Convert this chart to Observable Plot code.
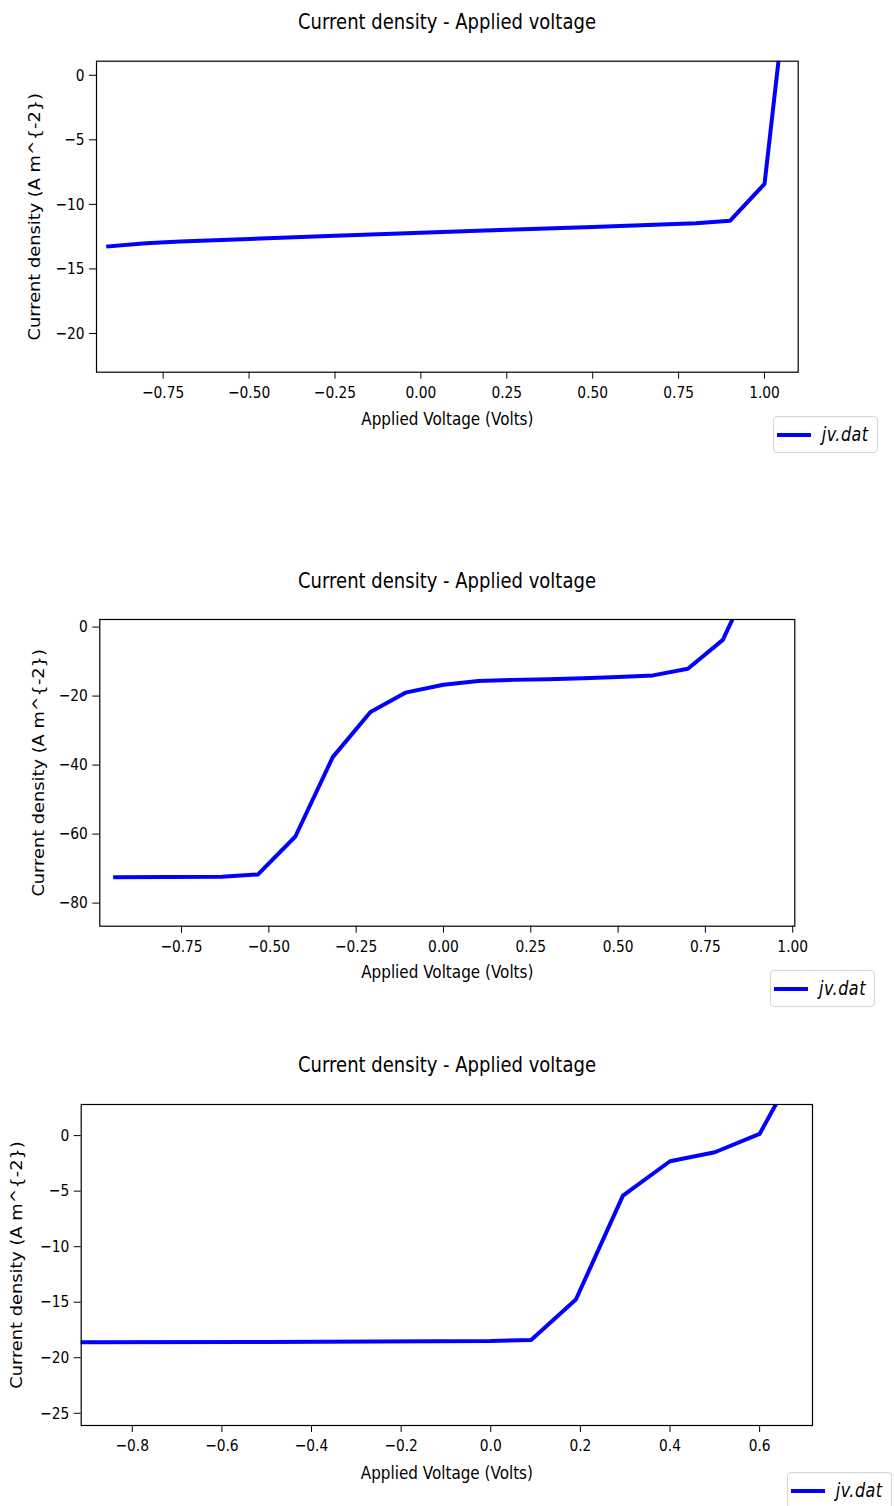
<!DOCTYPE html>
<html>
<head>
<meta charset="utf-8">
<script src="https://cdn.jsdelivr.net/npm/d3@7"></script>
<script src="https://cdn.jsdelivr.net/npm/@observablehq/plot@0.6"></script>
<style>
  html, body { margin: 0; padding: 0; background: #fff; }
  #root { position: relative; width: 894px; height: 1506px; overflow: hidden; background: #fff; font-family: "DejaVu Sans", sans-serif; }
  .title { position: absolute; left: 0; width: 894px; text-align: center; font-size: 18px; line-height: 18px; color: #000; white-space: nowrap;
           transform-origin: 50% 8.6px; transform: scaleY(1.2); }
  .legend { position: absolute; box-sizing: border-box; border: 1px solid #d4d4d4; border-radius: 4px; background: #fff; }
  .legend .sw { position: absolute; height: 4px; background: #0000ff; }
  .legend .lt { position: absolute; font-style: italic; font-size: 16px; line-height: 16px; letter-spacing: 0.5px; color: #000; white-space: nowrap;
                transform-origin: 50% 50%; transform: scaleY(1.17); }
</style>
</head>
<body>
<div id="root"></div>
<script>
// ---- Data ----
const titleText = "Current density - Applied voltage";
const xLabelText = "Applied Voltage (Volts)";
const yLabelText = "Current density (A m^{-2})";
const legendText = "jv.dat";

// Chart 1
const v1 = [-0.91, -0.8, -0.7, -0.6, -0.5, -0.25, 0.0, 0.25, 0.5, 0.8, 0.9, 1.0, 1.1];
const j1 = [-13.26, -13.02, -12.88, -12.77, -12.68, -12.43, -12.2, -11.97, -11.75, -11.47, -11.26, -8.42, 15];
const xTicks1 = [-0.75, -0.5, -0.25, 0, 0.25, 0.5, 0.75, 1.0];
const yTicks1 = [0, -5, -10, -15, -20];

// Chart 2
const v2 = [-0.94, -0.634, -0.531, -0.424, -0.317, -0.209, -0.109, 0.0, 0.1, 0.2, 0.3, 0.4, 0.5, 0.6, 0.7, 0.8, 0.9];
const j2 = [-72.5, -72.4, -71.7, -60.7, -37.7, -24.6, -19.0, -16.7, -15.65, -15.3, -15.1, -14.8, -14.5, -14.0, -12.1, -3.7, 18];
const xTicks2 = [-0.75, -0.5, -0.25, 0, 0.25, 0.5, 0.75, 1.0];
const yTicks2 = [0, -20, -40, -60, -80];

// Chart 3
const v3 = [-1.0, -0.5, 0.0, 0.09, 0.19, 0.295, 0.4, 0.5, 0.6, 0.7];
const j3 = [-18.62, -18.58, -18.5, -18.4, -14.76, -5.4, -2.31, -1.5, 0.15, 7.5];
const xTicks3 = [-0.8, -0.6, -0.4, -0.2, 0.0, 0.2, 0.4, 0.6];
const yTicks3 = [0, -5, -10, -15, -20, -25];

// ---- Layout ----
const root = document.getElementById("root");
const W = 894;
const STRETCH = 1.17; // reference text is vertically stretched

function stretchText(svg, s) {
  const sr = svg.getBoundingClientRect();
  svg.querySelectorAll("text").forEach(t => {
    const r = t.getBoundingClientRect();
    if (!r.height) return;
    const cy = (r.top + r.bottom) / 2 - sr.top;
    const pm = t.parentNode.getCTM();
    const cyP = cy - (pm ? pm.f : 0);
    const old = t.getAttribute("transform") || "";
    t.setAttribute("transform", `translate(0,${cyP * (1 - s)}) scale(1,${s}) ${old}`);
  });
}

function makeChart(cfg) {
  const rows = cfg.v.map((v, i) => ({v, j: cfg.j[i]}));
  const svg = Plot.plot({
    width: W,
    height: cfg.height,
    marginTop: cfg.mt, marginBottom: cfg.mb, marginLeft: cfg.ml, marginRight: cfg.mr,
    style: {fontFamily: "DejaVu Sans", fontSize: "13.8px", color: "#000", background: "transparent", overflow: "visible"},
    x: {domain: cfg.xDomain},
    y: {domain: cfg.yDomain},
    marks: [
      Plot.line(rows, {x: "v", y: "j", stroke: "#0000ff", strokeWidth: 4, strokeLinecap: "square", strokeLinejoin: "round", clip: true}),
      Plot.frame({stroke: "#000", strokeWidth: 1.2}),
      Plot.axisX({ticks: cfg.xTicks, tickFormat: d3.format(cfg.xFmt), tickSize: 7, tickPadding: 8, label: null}),
      Plot.axisX({ticks: [], label: xLabelText, labelAnchor: "center", labelOffset: cfg.xlo, labelArrow: "none", fontSize: 15.2}),
      Plot.axisY({ticks: cfg.yTicks, tickFormat: d3.format("d"), tickSize: 7, tickPadding: 5, label: null}),
      Plot.axisY({ticks: [], label: yLabelText, labelAnchor: "center", labelOffset: cfg.ylo, labelArrow: "none", fontSize: 15.2})
    ]
  });
  svg.style.position = "absolute";
  svg.style.left = "0px";
  svg.style.top = cfg.top + "px";
  root.appendChild(svg);
  stretchText(svg, STRETCH);

  const t = document.createElement("div");
  t.className = "title";
  t.textContent = titleText;
  t.style.top = (cfg.titleCenter - 8.6) + "px";
  root.appendChild(t);

  const lg = document.createElement("div");
  lg.className = "legend";
  lg.style.left = cfg.lg[0] + "px";
  lg.style.top = cfg.lg[1] + "px";
  lg.style.width = "105px";
  lg.style.height = "37px";
  const sw = document.createElement("div");
  sw.className = "sw";
  sw.style.left = "3px"; sw.style.top = "16px"; sw.style.width = "34px";
  lg.appendChild(sw);
  const lt = document.createElement("div");
  lt.className = "lt";
  lt.textContent = legendText;
  lt.style.left = "48px"; lt.style.top = "10px";
  lg.appendChild(lt);
  root.appendChild(lg);
}

makeChart({v: v1, j: j1, top: 0, height: 470, mt: 60.7, mb: 98.3, ml: 96, mr: 96.3,
  xDomain: [-0.944, 1.098], yDomain: [-23.0, 1.09], xTicks: xTicks1, yTicks: yTicks1, xFmt: ".2f",
  xlo: 52.3, ylo: 67.5, titleCenter: 22, lg: [772.7, 416]});

makeChart({v: v2, j: j2, top: 540, height: 480, mt: 79, mb: 94.3, ml: 99.3, mr: 99.7,
  xDomain: [-0.984, 1.006], yDomain: [-86.7, 2.2], xTicks: xTicks2, yTicks: yTicks2, xFmt: ".2f",
  xlo: 50.5, ylo: 66.8, titleCenter: 581, lg: [770, 970]});

makeChart({v: v3, j: j3, top: 1040, height: 466, mt: 64, mb: 81, ml: 80.7, mr: 82,
  xDomain: [-0.914, 0.718], yDomain: [-26.1, 2.8], xTicks: xTicks3, yTicks: yTicks3, xFmt: ".1f",
  xlo: 52.5, ylo: 69.8, titleCenter: 1065, lg: [786.7, 1471.7]});
</script>
</body>
</html>
